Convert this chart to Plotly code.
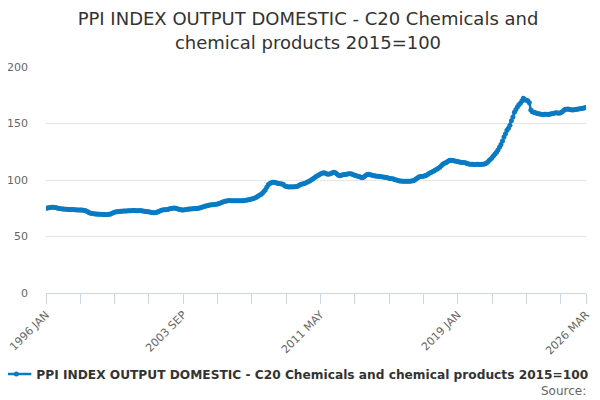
import plotly.graph_objects as go

MONTHS = ["JAN", "FEB", "MAR", "APR", "MAY", "JUN", "JUL", "AUG", "SEP", "OCT", "NOV", "DEC"]
FIRST_YEAR = 1996

v1996 = [75.0, 75.2, 75.4, 75.6, 75.8, 75.8, 75.6, 75.4, 75.0, 74.8, 74.6, 74.4]
v1997 = [74.3, 74.2, 74.2, 74.0, 74.0, 73.9, 73.8, 73.6, 73.6, 73.5, 73.5, 73.4]
v1998 = [73.4, 73.3, 73.0, 72.5, 71.8, 71.0, 70.6, 70.3, 70.1, 70.0, 69.9, 69.8]
v1999 = [69.7, 69.6, 69.5, 69.5, 69.4, 69.5, 69.6, 69.8, 70.3, 71.0, 71.5, 71.8]
v2000 = [72.0, 72.1, 72.3, 72.4, 72.5, 72.5, 72.6, 72.7, 72.8, 72.8, 72.9, 72.9]
v2001 = [72.9, 72.8, 72.8, 72.9, 72.8, 72.6, 72.4, 72.2, 72.0, 71.8, 71.5, 71.2]
v2002 = [71.0, 71.0, 71.2, 71.8, 72.4, 73.0, 73.4, 73.6, 73.7, 73.8, 74.2, 74.6]
v2003 = [74.8, 75.0, 75.2, 75.0, 74.6, 74.2, 73.8, 73.5, 73.5, 73.7, 74.0, 74.2]
v2004 = [74.3, 74.4, 74.5, 74.6, 74.7, 74.8, 75.0, 75.2, 75.6, 76.0, 76.5, 77.0]
v2005 = [77.3, 77.6, 77.9, 78.0, 78.2, 78.4, 78.6, 78.8, 79.2, 79.6, 80.2, 80.8]
v2006 = [81.2, 81.5, 81.7, 81.8, 81.7, 81.6, 81.6, 81.7, 81.7, 81.6, 81.6, 81.7]
v2007 = [81.7, 81.8, 82.0, 82.3, 82.6, 82.9, 83.2, 83.6, 84.1, 84.8, 85.6, 86.4]
v2008 = [87.2, 88.3, 89.8, 91.2, 93.5, 95.8, 97.0, 97.6, 97.9, 98.0, 97.8, 97.2]
v2009 = [96.9, 96.7, 96.5, 96.2, 95.0, 94.2, 94.0, 93.9, 94.0, 93.9, 94.0, 94.0]
v2010 = [94.2, 94.8, 95.6, 96.2, 96.5, 96.9, 97.4, 98.0, 98.6, 99.4, 100.3, 101.0]
v2011 = [102.0, 103.0, 103.8, 104.6, 105.3, 106.0, 106.5, 106.3, 105.6, 105.0, 105.3, 105.8]
v2012 = [106.4, 106.8, 106.5, 105.4, 104.2, 103.8, 104.2, 104.6, 104.8, 104.9, 105.2, 105.6]
v2013 = [105.6, 105.2, 104.6, 104.2, 103.8, 103.4, 103.0, 102.5, 102.0, 102.6, 103.8, 104.6]
v2014 = [105.0, 104.8, 104.4, 104.0, 103.8, 103.6, 103.4, 103.3, 103.0, 102.8, 102.6, 102.5]
v2015 = [102.3, 102.0, 101.6, 101.4, 101.2, 100.8, 100.3, 99.9, 99.5, 99.2, 99.1, 99.0]
v2016 = [99.0, 98.9, 98.9, 99.0, 99.0, 99.1, 99.3, 99.8, 100.8, 101.8, 102.7, 103.0]
v2017 = [103.1, 103.4, 103.8, 104.3, 105.0, 105.9, 106.6, 107.3, 108.0, 108.8, 109.6, 110.3]
v2018 = [111.3, 112.6, 114.0, 114.8, 115.3, 116.2, 117.0, 117.4, 117.3, 117.2, 116.8, 116.5]
v2019 = [116.3, 116.0, 115.7, 115.5, 115.4, 115.2, 114.8, 114.4, 114.0, 113.9, 113.9, 113.8]
v2020 = [113.8, 113.9, 113.9, 113.8, 113.9, 114.0, 114.2, 114.8, 115.8, 117.2, 118.3, 119.8]
v2021 = [121.5, 123.0, 124.5, 126.5, 128.9, 131.5, 134.5, 138.0, 141.0, 144.0, 145.7, 148.5]
v2022 = [152.5, 155.8, 160.0, 162.5, 164.5, 166.5, 168.0, 170.0, 172.3, 171.0, 170.5, 170.2]
v2023 = [168.4, 162.0, 160.5, 160.0, 159.6, 159.0, 158.6, 158.3, 158.1, 158.0, 158.1, 158.1]
v2024 = [158.2, 158.0, 158.3, 158.6, 158.8, 159.2, 159.6, 159.4, 159.0, 159.6, 160.5, 161.6]
v2025 = [162.6, 162.6, 162.8, 162.5, 162.2, 162.0, 162.2, 162.4, 162.6, 162.8, 163.0, 163.2]
v2026 = [163.6, 163.9, 164.2]

SERIES_NAME = "PPI INDEX OUTPUT DOMESTIC - C20 Chemicals and chemical products 2015=100"
TITLE = "PPI INDEX OUTPUT DOMESTIC - C20 Chemicals and<br>chemical products 2015=100"
TICK_LABELS = ["1996 JAN", "2003 SEP", "2011 MAY", "2019 JAN", "2026 MAR"]
TICK_STEP = 23

yearly = [v1996, v1997, v1998, v1999, v2000, v2001, v2002, v2003, v2004, v2005,
          v2006, v2007, v2008, v2009, v2010, v2011, v2012, v2013, v2014, v2015,
          v2016, v2017, v2018, v2019, v2020, v2021, v2022, v2023, v2024, v2025, v2026]

categories = []
values = []
for i, vals in enumerate(yearly):
    year = FIRST_YEAR + i
    for m, v in enumerate(vals):
        categories.append(f"{year} {MONTHS[m]}")
        values.append(v)

tick_idx = list(range(0, len(categories) - 1, TICK_STEP)) + [len(categories) - 1]
tickvals = [categories[i] for i in tick_idx]
ticktext = [categories[i] if categories[i] in TICK_LABELS else "" for i in tick_idx]

color = "#0a7bc2"
fig = go.Figure()
fig.add_trace(go.Scatter(
    x=categories, y=values, mode="lines+markers", name="<b>" + SERIES_NAME + "</b>",
    line=dict(color=color, width=2.5),
    marker=dict(color=color, size=5),
))

fig.update_layout(
    width=600, height=400,
    margin=dict(l=38, r=22, t=59, b=115, autoexpand=False),
    paper_bgcolor="white", plot_bgcolor="white",
    font=dict(family="DejaVu Sans", color="#666666", size=11),
    title=dict(text=TITLE, x=0.5, xanchor="center", y=0.957, yanchor="top",
               font=dict(size=18, color="#333333", family="DejaVu Sans")),
    showlegend=True,
    legend=dict(orientation="h", x=-0.092, xanchor="left", y=-0.358, yanchor="middle",
                font=dict(size=12.2, color="#333333", family="DejaVu Sans"),
                itemwidth=30),
    xaxis=dict(type="category", range=[0, len(categories) - 1],
               tickvals=tickvals, ticktext=ticktext, tickangle=-45,
               ticks="outside", ticklen=10, tickcolor="#ccd6eb",
               showline=True, linecolor="#ccd6eb", showgrid=False, automargin=False,
               tickfont=dict(size=11, color="#666666")),
    yaxis=dict(range=[0, 200], dtick=50, showgrid=True, gridcolor="#e6e6e6",
               zeroline=False, showline=False, ticks="", automargin=False,
               ticklabelstandoff=17,
               tickfont=dict(size=11, color="#666666")),
    annotations=[dict(text="Source:", xref="paper", yref="paper", x=1.0037, y=-0.434,
                      xanchor="right", yanchor="middle", showarrow=False,
                      font=dict(size=12, color="#666666"))],
)

fig.write_html("out.html")
